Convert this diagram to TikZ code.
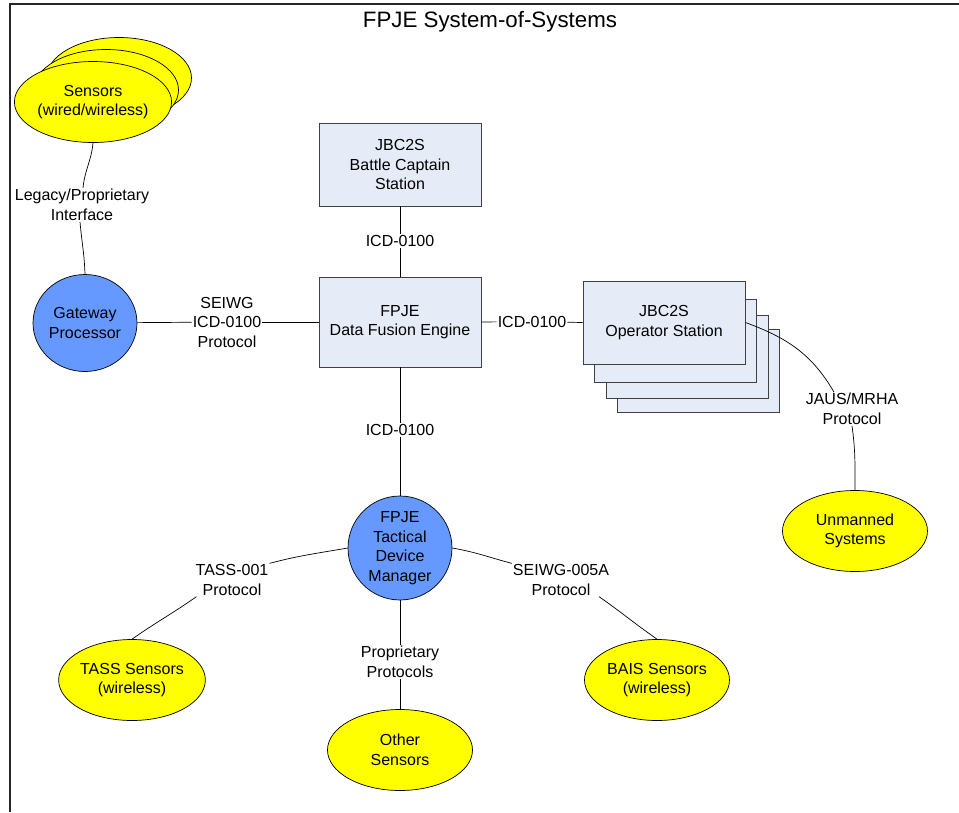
\documentclass[tikz,border=0pt]{standalone}
\usepackage{fontspec}
\setmainfont{Liberation Sans}
\usetikzlibrary{shapes.geometric}
\definecolor{boxfill}{HTML}{E6ECF7}
\definecolor{boxline}{HTML}{404040}
\definecolor{bluefill}{HTML}{6699FF}
\definecolor{yel}{HTML}{FFFF00}
\begin{document}
\begin{tikzpicture}[x=1pt,y=1pt,
  txt/.style={font=\fontsize{16}{19.5}\selectfont, align=center},
  sysbox/.style={txt, draw=boxline, fill=boxfill, line width=0.8pt, minimum width=162pt, minimum height=83pt, inner sep=0pt},
  yell/.style={txt, ellipse, draw=black, fill=yel, line width=0.7pt, minimum width=145pt, minimum height=81pt, inner sep=0pt},
  bluec/.style={txt, ellipse, draw=black, fill=bluefill, line width=0.7pt, inner sep=0pt},
  lbl/.style={txt, inner sep=1pt},
  conn/.style={draw=black, line width=0.7pt}
]
\useasboundingbox (0,0) rectangle (959,-812);
% frame
\draw[black!85, line width=1.6pt] (10,-812) -- (10,-4) -- (959,-4);
% title
\node[font=\fontsize{22.3}{26}\selectfont] (title) at (490,-22) {FPJE System-of-Systems};

% sensors stack
\node[yell] (sensb) at (119,-78) {};
\node[yell] (sensm) at (106,-90) {};
\node[yell] (sens) at (93,-102) {Sensors\\(wired/wireless)};

% gateway
\node[bluec, minimum width=104pt, minimum height=97pt] (gw) at (85,-323) {Gateway\\Processor};

% boxes
\node[sysbox] (bcs) at (400,-164.5) {JBC2S\\Battle Captain\\Station};
\node[sysbox, minimum height=90pt] (dfe) at (400,-322) {FPJE\\Data Fusion Engine};

\node[sysbox] (op4) at (698,-371) {};
\node[sysbox] (op3) at (687,-357) {};
\node[sysbox] (op2) at (675.5,-341) {};
\node[sysbox] (op) at (664,-322.5) {JBC2S\\Operator Station};

% tactical manager and sensors
\node[bluec, minimum width=104pt, minimum height=104pt] (tdm) at (400,-548) {FPJE\\Tactical\\Device\\Manager};
\node[yell] (unm) at (855,-531) {Unmanned\\Systems};
\node[yell] (tass) at (132,-680) {TASS Sensors\\(wireless)};
\node[yell] (bais) at (657,-680) {BAIS Sensors\\(wireless)};
\node[yell] (oth) at (400,-750) {Other\\Sensors};

% labels
\node[lbl] (legl) at (82,-205) {Legacy/Proprietary\\Interface};
\node[lbl] (seiwgl) at (227,-322) {SEIWG\\ICD-0100\\Protocol};
\node[lbl] (icdtop) at (400,-241) {ICD-0100};
\node[lbl] (icdright) at (532,-321.5) {ICD-0100};
\node[lbl] (icdbot) at (400,-430) {ICD-0100};
\node[lbl] (jausl) at (852,-409) {JAUS/MRHA\\Protocol};
\node[lbl] (tassl) at (232,-580) {TASS-001\\Protocol};
\node[lbl] (seil) at (561,-580) {SEIWG-005A\\Protocol};
\node[lbl] (propl) at (400,-662) {Proprietary\\Protocols};

% connectors
\draw[conn] (sens.south) to[out=-95,in=85] ([xshift=1pt]legl.north);
\draw[conn] ([xshift=-2pt]legl.south) to[out=-85,in=92] (gw.north);
\draw[conn] (gw) -- (seiwgl);
\draw[conn] (seiwgl) -- (dfe);
\draw[conn] (bcs) -- (icdtop);
\draw[conn] (icdtop) -- (dfe);
\draw[conn] (dfe.east) -- (icdright);
\draw[conn] (icdright) -- (op.west);
\draw[conn] (dfe) -- (icdbot);
\draw[conn] (icdbot) -- (tdm);
\draw[conn] (op.east) to[out=-20,in=120] ([xshift=-18pt]jausl.north);
\draw[conn] (jausl.south) to[out=-82,in=90] (unm.north);
\draw[conn] (tdm.west) to[out=190,in=15] (tassl.north east);
\draw[conn] ([xshift=2pt]tassl.south west) to[out=215,in=35] (tass.north);
\draw[conn] (tdm.east) to[out=-10,in=165] (seil.north west);
\draw[conn] ([xshift=38pt]seil.south) to[out=-35,in=145] (bais.north);
\draw[conn] (tdm) -- (propl);
\draw[conn] (propl) -- (oth);
\end{tikzpicture}
\end{document}
